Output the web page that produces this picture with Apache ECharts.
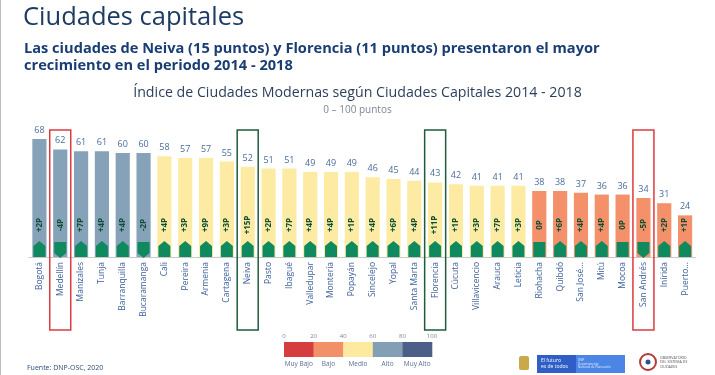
<!DOCTYPE html>
<html>
<head>
<meta charset="utf-8">
<script src="https://cdn.jsdelivr.net/npm/echarts@6/dist/echarts.min.js"></script>
<style>
  html, body { margin: 0; padding: 0; background: #fff; }
  #main { width: 715px; height: 375px; }
</style>
</head>
<body>
<div id="main"></div>
<script>
// datos
const cities = ['Bogotá', 'Medellín', 'Manizales', 'Tunja', 'Barranquilla', 'Bucaramanga', 'Cali', 'Pereira',
    'Armenia', 'Cartagena', 'Neiva', 'Pasto', 'Ibagué', 'Valledupar', 'Montería', 'Popayán', 'Sincelejo', 'Yopal',
    'Santa Marta', 'Florencia', 'Cúcuta', 'Villavicencio', 'Arauca', 'Leticia', 'Riohacha', 'Quibdó', 'San José...',
    'Mitú', 'Mocoa', 'San Andrés', 'Inírida', 'Puerto...'];
const scores2018 = [68, 62, 61, 61, 60, 60, 58, 57, 57, 55, 52, 51, 51, 49, 49, 49, 46, 45, 44, 43, 42, 41, 41, 41,
    38, 38, 37, 36, 36, 34, 31, 24];
const change = [2, -4, 7, 4, 4, -2, 4, 3, 9, 3, 15, 2, 7, 4, 4, 1, 4, 6, 4, 11, 1, 3, 7, 3, 0, 6, 4, 4, 0, -5, 2, 1];
const redBoxes = ['Medellín', 'San Andrés'];
const greenBoxes = ['Neiva', 'Florencia'];

const levelTicks = [0, 20, 40, 60, 80, 100];
const levelNames = ['Muy Bajo', 'Bajo', 'Medio', 'Alto', 'Muy Alto'];
const levelColors = ['#d63d3e', '#f29067', '#fde9a0', '#839fb5', '#4b5f89'];
const barColors = ['#d63d3e', '#f4916b', '#fdeba4', '#86a2b9', '#4b5f89'];

const font = 'Open Sans';
const navy = '#1d3b63';
const arrowGreen = '#0f8a5f';

let pieces = [];
for (let k = 0; k < levelNames.length; k++) {
    pieces.push({ gte: levelTicks[k], lt: levelTicks[k + 1], color: barColors[k] });
}

const changeData = change.map((d, i) => [i, d]);

let options = {
    animation: false,
    textStyle: { fontFamily: font },
    title: [
        { text: 'Ciudades capitales', left: 18, top: 0,
          textStyle: { fontSize: 25.5, fontWeight: 'normal', color: navy, fontFamily: font } },
        { text: 'Las ciudades de Neiva (15 puntos) y Florencia (11 puntos) presentaron el mayor\ncrecimiento en el periodo 2014 - 2018',
          left: 19, top: 35,
          textStyle: { fontSize: 14.6, fontWeight: 'bold', color: '#1a3e73', lineHeight: 17, fontFamily: font } },
        { text: 'Índice de Ciudades Modernas según Ciudades Capitales 2014 - 2018', left: 'center', top: 81,
          textStyle: { fontSize: 14.2, fontWeight: 'normal', color: '#2b3f5c', fontFamily: font } },
        { text: '0 – 100 puntos', left: 'center', top: 100,
          textStyle: { fontSize: 10, fontWeight: 'normal', color: '#7d8796', fontFamily: font } },
        { text: 'Fuente: DNP-OSC, 2020', left: 22, top: 359,
          textStyle: { fontSize: 7, fontWeight: 'normal', color: '#2b4a78', fontFamily: font } }
    ],
    grid: { left: 29, right: 19.5, top: 83.5, bottom: 118 },
    visualMap: {
        show: false,
        type: 'piecewise',
        seriesIndex: 0,
        dimension: 1,
        pieces: pieces
    },
    xAxis: {
        type: 'category',
        data: cities,
        axisLine: { lineStyle: { color: '#c9c9c9', width: 1 } },
        axisTick: { show: false },
        axisLabel: { rotate: 90, interval: 0, margin: 5, fontSize: 8.5, color: '#3b5e98', fontFamily: font }
    },
    yAxis: {
        type: 'value', min: 0, max: 100, show: false, splitLine: { show: false }
    },
    series: [
        {
            type: 'bar',
            data: scores2018,
            barCategoryGap: '32%',
            label: { show: true, position: 'top', distance: 4, fontSize: 9, color: '#4a6c9a', fontFamily: font }
        },
        {
            type: 'custom',
            data: changeData,
            clip: false,
            z: 5,
            renderItem: function (params, api) {
                const d = api.value(1);
                const p = api.coord([api.value(0), 0]);
                const w = 12;
                const x = p[0] - w / 2;
                const b = p[1];
                let shape;
                if (d > 0) {
                    shape = { type: 'polygon', shape: { points: [[x, b], [x, b - 11], [p[0], b - 16], [x + w, b - 11], [x + w, b]] } };
                } else if (d < 0) {
                    shape = { type: 'polygon', shape: { points: [[x, b - 15], [x + w, b - 15], [x + w, b - 4], [p[0], b + 1], [x, b - 4]] } };
                } else {
                    shape = { type: 'rect', shape: { x: x, y: b - 15, width: w, height: 15 } };
                }
                shape.style = { fill: arrowGreen };
                const txt = (d > 0 ? '+' : '') + d + 'P';
                return {
                    type: 'group',
                    children: [
                        shape,
                        {
                            type: 'text',
                            x: p[0], y: b - 32,
                            rotation: Math.PI / 2,
                            style: {
                                text: txt, fill: '#0d4f33', fontSize: 8, fontWeight: 'bold', fontFamily: font,
                                align: 'center', verticalAlign: 'middle'
                            }
                        }
                    ]
                };
            }
        }
    ]
};

let myChart = echarts.init(document.getElementById('main'));
myChart.setOption(options);

// recuadros de resaltado y leyenda
let g = [];
g.push({ type: 'line', shape: { x1: 0.5, y1: 0, x2: 0.5, y2: 375 }, style: { stroke: '#bdbdbd', lineWidth: 1 } });

function box(name, color) {
    const cx = myChart.convertToPixel({ xAxisIndex: 0 }, name);
    g.push({ type: 'rect', shape: { x: cx - 10.5, y: 130, width: 21, height: 200 },
        style: { fill: 'none', stroke: color, lineWidth: 1.5 }, z: 10 });
}
redBoxes.forEach((n) => box(n, '#dc3b3f'));
greenBoxes.forEach((n) => box(n, '#1f5b3d'));

const lx = 284, ly = 342, segW = 29.6, segH = 15;
for (let k = 0; k < levelNames.length; k++) {
    g.push({ type: 'rect', shape: { x: lx + k * segW, y: ly, width: segW + 0.3, height: segH }, style: { fill: levelColors[k] } });
    g.push({ type: 'text', x: lx + k * segW + segW / 2, y: ly + segH + 7,
        style: { text: levelNames[k], fontSize: 6.5, fill: '#5a6f95', fontFamily: font, align: 'center', verticalAlign: 'middle' } });
}
levelTicks.forEach((t, k) => {
    g.push({ type: 'text', x: lx + k * segW, y: ly - 6,
        style: { text: String(t), fontSize: 6, fill: '#7a8699', fontFamily: font, align: 'center', verticalAlign: 'middle' } });
});

// logos (aproximados)
g.push({ type: 'rect', shape: { x: 519, y: 356, width: 10, height: 14, r: 2 }, style: { fill: '#c9a94a' } });
g.push({ type: 'rect', shape: { x: 537, y: 355, width: 39, height: 18 }, style: { fill: '#2f5fc6' } });
g.push({ type: 'rect', shape: { x: 576, y: 355, width: 49, height: 18 }, style: { fill: '#4b86e6' } });
g.push({ type: 'text', x: 541, y: 364, style: { text: 'El futuro\nes de todos', fontSize: 5, lineHeight: 6, fill: '#fff', fontFamily: font, verticalAlign: 'middle' } });
g.push({ type: 'text', x: 578, y: 364, style: { text: 'DNP\nDepartamento\nNacional de Planeación', fontSize: 3, lineHeight: 3.6, fill: '#e8efff', fontFamily: font, verticalAlign: 'middle' } });
g.push({ type: 'circle', shape: { cx: 648, cy: 362, r: 8 }, style: { fill: '#fff', stroke: '#b33a3a', lineWidth: 2 } });
g.push({ type: 'circle', shape: { cx: 648, cy: 362, r: 2.5 }, style: { fill: '#2d4f8f' } });
g.push({ type: 'text', x: 660, y: 362, style: { text: 'OBSERVATORIO\nDEL SISTEMA DE\nCIUDADES', fontSize: 3.6, lineHeight: 4.5, fill: '#555', fontFamily: font, verticalAlign: 'middle' } });

myChart.setOption({ graphic: g });
</script>
</body>
</html>
